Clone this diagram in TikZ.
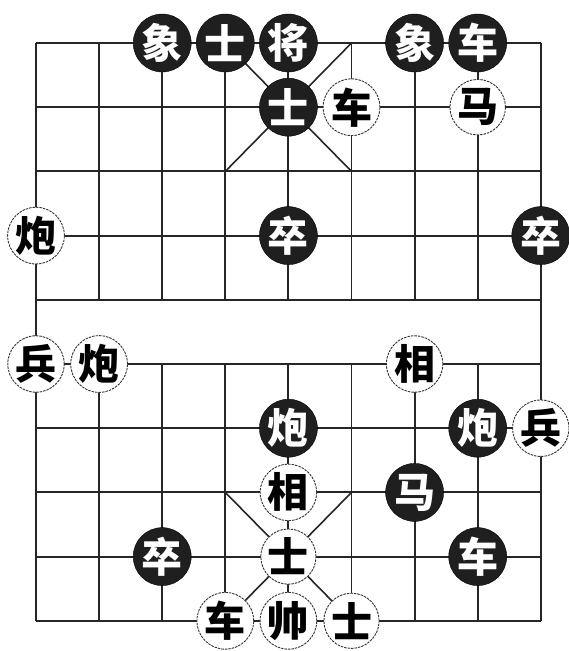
\documentclass[tikz,border=0pt]{standalone}
\usepackage{fontspec}
\newfontfamily\cjk{Noto Sans CJK SC}
\begin{document}
\begin{tikzpicture}[x=1pt,y=-1pt,
  gridline/.style={draw=black!85, line width=1.9pt},
  palace/.style={draw=black!85, line width=1.6pt},
  piece/.style={circle, inner sep=0pt, font=\cjk\bfseries\fontsize{41}{41}\selectfont},
  bp/.style={piece, fill=black!88, draw=black, minimum size=58pt, text=white},
  wp/.style={piece, fill=white, draw=black!80, line width=0.9pt, dash pattern=on 2.5pt off 1pt, minimum size=55pt, text=black}]
\useasboundingbox (0,0) rectangle (569,651);
\fill[white] (0,0) rectangle (569,651);
\foreach \i in {0,...,8}{\foreach \j in {0,...,9}{
  \coordinate (p\i\j) at ({36+63.1*\i},{43+64.2*\j});}}
% grid
\foreach \j in {0,...,9}{\draw[gridline] (p0\j) -- (p8\j);}
\foreach \i in {1,...,7}{\draw[gridline] (p\i0) -- (p\i4); \draw[gridline] (p\i5) -- (p\i9);}
\draw[gridline] (p00) -- (p09);
\draw[gridline] (p80) -- (p89);
% palaces
\draw[palace] (p30) -- (p52);
\draw[palace] (p50) -- (p32);
\draw[palace] (p37) -- (p59);
\draw[palace] (p57) -- (p39);
% black pieces
\node[bp] (bx1) at (p20) {象};
\node[bp] (bs1) at (p30) {士};
\node[bp] (bj)  at (p40) {将};
\node[bp] (bx2) at (p60) {象};
\node[bp] (bc1) at (p70) {车};
\node[bp] (bs2) at (p41) {士};
\node[bp] (bz1) at (p43) {卒};
\node[bp] (bz2) at (p83) {卒};
\node[bp] (bp1) at (p46) {炮};
\node[bp] (bp2) at (p76) {炮};
\node[bp] (bm)  at (p67) {马};
\node[bp] (bz3) at (p28) {卒};
\node[bp] (bc2) at (p78) {车};
% white pieces
\node[wp] (wc1) at (p51) {车};
\node[wp] (wm)  at (p71) {马};
\node[wp] (wp1) at (p03) {炮};
\node[wp] (wb1) at (p05) {兵};
\node[wp] (wp2) at (p15) {炮};
\node[wp] (wx1) at (p65) {相};
\node[wp] (wb2) at (p86) {兵};
\node[wp] (wx2) at (p47) {相};
\node[wp] (ws1) at (p48) {士};
\node[wp] (wc2) at (p39) {车};
\node[wp] (wk)  at (p49) {帅};
\node[wp] (ws2) at (p59) {士};
\end{tikzpicture}
\end{document}
